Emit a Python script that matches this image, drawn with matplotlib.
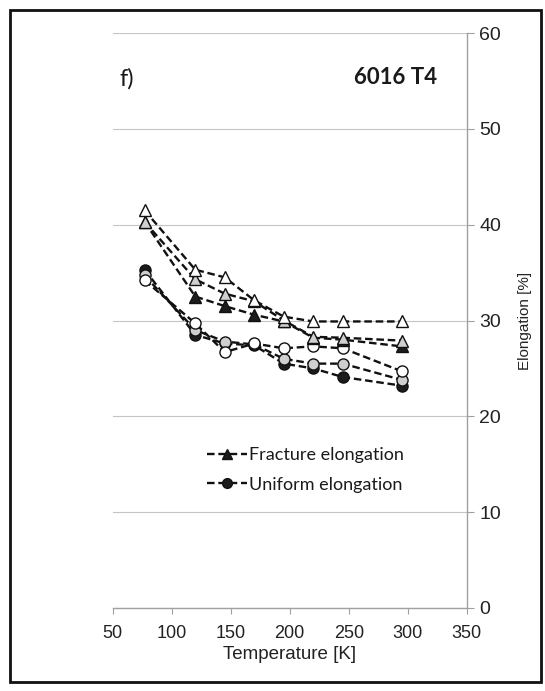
import matplotlib
matplotlib.use("Agg")
import matplotlib.pyplot as plt
from matplotlib.lines import Line2D
from matplotlib.patches import Rectangle

# ---- data ----
temps = [77, 120, 145, 170, 195, 220, 245, 295]

frac_black = [40.3, 32.5, 31.5, 30.6, 29.9, 28.2, 28.0, 27.3]
frac_gray  = [40.3, 34.3, 32.8, 32.0, 30.0, 28.3, 28.2, 27.9]
frac_white = [41.5, 35.3, 34.5, 32.1, 30.4, 29.9, 29.9, 29.9]

unif_black = [35.3, 28.5, 27.6, 27.4, 25.5, 25.0, 24.1, 23.2]
unif_gray  = [34.7, 29.0, 27.8, 27.5, 26.0, 25.5, 25.5, 23.8]
unif_white = [34.2, 29.7, 26.7, 27.6, 27.1, 27.3, 27.1, 24.7]

xticks = [50, 100, 150, 200, 250, 300, 350]
yticks = [0, 10, 20, 30, 40, 50, 60]

W, H = 545, 691
fig = plt.figure(figsize=(W / 100, H / 100), dpi=100)
fig.patch.set_facecolor("white")

# scan border
fig.patches.append(Rectangle((10 / W, 1 - 682 / H), 531 / W, 672 / H,
                             transform=fig.transFigure, fill=False,
                             edgecolor="#111111", linewidth=2.0))

x0, x1 = 112.7, 466.7
y0, y1 = 608, 33
ax = fig.add_axes([x0 / W, 1 - y0 / H, (x1 - x0) / W, (y0 - y1) / H])
ax.set_facecolor("white")

ls = (0, (3.2, 1.6))
ms = 8
col_black = "#1c1c1c"
col_gray = "#cfcfcf"

series = [
    (unif_black, "o", col_black),
    (unif_gray, "o", col_gray),
    (unif_white, "o", "white"),
    (frac_black, "^", col_black),
    (frac_gray, "^", col_gray),
    (frac_white, "^", "white"),
]
for z, (vals, mk, fc) in enumerate(series):
    ax.plot(temps, vals, linestyle=ls, color="#111111", linewidth=1.7,
            marker=mk, markersize=ms, markerfacecolor=fc,
            markeredgecolor="#111111", markeredgewidth=1.0, zorder=3 + z)

ax.set_xlim(50, 350)
ax.set_ylim(0, 60)
ax.set_xticks(xticks)
ax.set_yticks(yticks)
ax.yaxis.tick_right()
ax.yaxis.set_label_position("right")

for s in ["left", "top"]:
    ax.spines[s].set_visible(False)
for s in ["bottom", "right"]:
    ax.spines[s].set_color("#a0a0a0")
    ax.spines[s].set_linewidth(1.0)

ax.grid(axis="y", color="#c4c4c4", linewidth=0.8)
ax.grid(axis="x", visible=False)

tick_font = "Liberation Sans"
ax.tick_params(axis="x", direction="out", length=4, color="#a0a0a0",
               labelsize=13, pad=8, labelcolor="#222222")
ax.tick_params(axis="y", direction="out", length=5, color="#a0a0a0",
               labelsize=14, pad=4, labelcolor="#222222")
for lab in ax.get_xticklabels() + ax.get_yticklabels():
    lab.set_fontfamily(tick_font)

ax.set_xlabel("Temperature [K]", fontsize=13.5, fontfamily=tick_font,
              color="#222222", labelpad=3)
ax.set_ylabel("Elongation [%]", fontsize=11, fontfamily=tick_font,
              color="#222222", labelpad=12)

# panel texts
fig.text(119 / W, 1 - 79 / H, "f)", fontsize=17, fontfamily="Lato",
         color="#1a1a1a", ha="left", va="center")
fig.text(437 / W, 1 - 77 / H, "6016 T4", fontsize=16, fontfamily="Lato",
         fontweight="bold", color="#1a1a1a", ha="right", va="center")

# legend
handles = [
    Line2D([], [], linestyle=ls, color="#111111", linewidth=1.7, marker="^",
           markersize=7, markerfacecolor=col_black, markeredgecolor="#111111"),
    Line2D([], [], linestyle=ls, color="#111111", linewidth=1.7, marker="o",
           markersize=7, markerfacecolor=col_black, markeredgecolor="#111111"),
]
leg = fig.legend(handles, ["Fracture elongation", "Uniform elongation"],
                 loc="upper left", bbox_to_anchor=(207 / W, 1 - 447 / H),
                 frameon=False, prop={"family": "Lato", "size": 13},
                 handlelength=2.2, handletextpad=0.15, labelspacing=0.75,
                 borderpad=0, borderaxespad=0)
for t in leg.get_texts():
    t.set_color("#1a1a1a")

fig.savefig("out.png", dpi=100, facecolor="white")
